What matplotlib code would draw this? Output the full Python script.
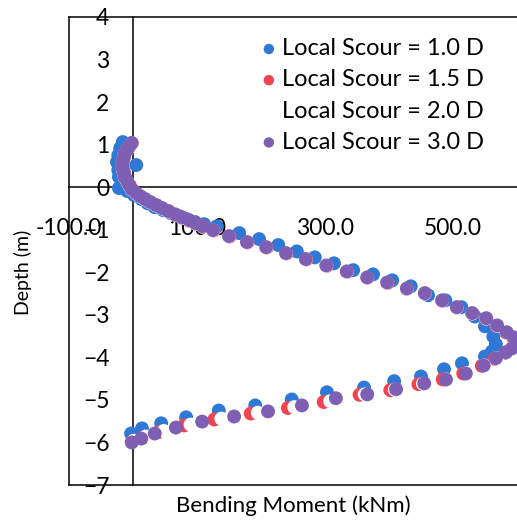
import matplotlib
matplotlib.use("Agg")
import matplotlib.pyplot as plt

plt.rcParams['font.family'] = ['Lato', 'DejaVu Sans']

# Local scour = 1.0 D
moment_10 = [-16, -20, -23, -25, 5, -23, -22, -22, -9, 2, 13, 23, 34, 47, 59, 72, 84, 97, 111, 131,
             166, 197, 227, 256, 284, 314, 344, 375, 405, 434, 461, 488, 513, 534, 550, 563, 567, 561,
             550, 514, 486, 450, 408, 361, 303, 248, 191, 134, 83, 44, 14, -3]
depth_10 = [1.06, 0.92, 0.75, 0.59, 0.52, 0.40, 0.24, -0.02, -0.09, -0.19, -0.28, -0.38, -0.47, -0.54,
            -0.61, -0.68, -0.75, -0.82, -0.87, -0.92, -1.08, -1.22, -1.36, -1.51, -1.65, -1.79, -1.95,
            -2.05, -2.19, -2.33, -2.54, -2.66, -2.82, -3.04, -3.27, -3.51, -3.69, -3.86, -3.98, -4.14,
            -4.28, -4.45, -4.56, -4.71, -4.82, -4.99, -5.13, -5.25, -5.41, -5.55, -5.67, -5.79]

# Local scour = 1.5 D
moment_15 = [-2, -6, -10, -13, -14, -16, -16, -16, -14, -12, -9, -5, -1, 5, 12, 19, 28, 37, 46, 56,
             66, 77, 88, 99, 110,
             126, 151, 179, 209, 240, 271, 303, 335, 366, 398, 428, 456, 483, 506, 530, 551, 568, 583, 594,
             594, 582, 565, 545, 516, 484, 446, 402, 354, 298, 242, 184, 127, 80, 41, 16, -1]
depth_15 = [1.03, 0.95, 0.88, 0.79, 0.70, 0.60, 0.51, 0.41, 0.32, 0.23, 0.13, 0.04, -0.06, -0.15,
            -0.22, -0.29, -0.36, -0.43, -0.50, -0.57, -0.65, -0.72, -0.79, -0.86, -0.93,
            -1.02, -1.16, -1.30, -1.42, -1.56, -1.70, -1.85, -1.99, -2.13, -2.25, -2.39, -2.50, -2.67,
            -2.83, -2.97, -3.09, -3.26, -3.42, -3.54,
            -3.77, -3.89, -4.03, -4.20, -4.38, -4.52, -4.63, -4.77, -4.88, -5.05, -5.19, -5.32, -5.46,
            -5.60, -5.75, -5.88, -5.97]

# Local scour = 2.0 D
moment_20 = [-2, -6, -9, -13, -14, -16, -16, -16, -14, -13, -9, -6, -2, 5, 11, 19, 27, 36, 45, 55,
             66, 77, 88, 98, 109,
             125, 150, 178, 208, 239, 270, 302, 334, 366, 397, 428, 456, 483, 506, 530, 552, 569, 584, 595,
             596, 585, 568, 549, 522, 490, 453, 409, 362, 308, 252, 195, 138, 90, 48, 20, 1]
depth_20 = [1.03, 0.95, 0.88, 0.79, 0.70, 0.60, 0.51, 0.41, 0.32, 0.23, 0.13, 0.04, -0.06, -0.15,
            -0.22, -0.29, -0.36, -0.43, -0.50, -0.57, -0.65, -0.72, -0.79, -0.86, -0.93,
            -1.02, -1.16, -1.30, -1.42, -1.56, -1.70, -1.85, -1.99, -2.13, -2.25, -2.39, -2.50, -2.67,
            -2.83, -2.97, -3.09, -3.26, -3.42, -3.54,
            -3.77, -3.88, -4.02, -4.19, -4.37, -4.52, -4.62, -4.76, -4.87, -5.03, -5.17, -5.30, -5.44,
            -5.58, -5.73, -5.86, -5.96]

# Local scour = 3.0 D
moment_30 = [-2, -6, -9, -13, -14, -16, -16, -16, -14, -13, -9, -6, -2, 5, 11, 19, 27, 36, 45, 55,
             66, 77, 88, 98, 109, 125, 150, 178, 208, 239, 270, 302, 334, 366, 397, 428, 456, 483,
             506, 530, 552, 569, 584, 595, 602, 592, 583, 567, 548, 520, 489, 455, 411, 366, 317,
             264, 211, 158, 108, 67, 34, 13, -2]
depth_30 = [1.04, 0.96, 0.89, 0.80, 0.71, 0.61, 0.52, 0.42, 0.33, 0.24, 0.14, 0.05, -0.05, -0.14,
            -0.21, -0.28, -0.35, -0.42, -0.49, -0.56, -0.64, -0.71, -0.78, -0.85, -0.92, -1.01,
            -1.15, -1.29, -1.41, -1.55, -1.69, -1.84, -1.98, -2.12, -2.24, -2.38, -2.49, -2.66,
            -2.82, -2.96, -3.08, -3.25, -3.41, -3.53, -3.67, -3.79, -3.88, -4.02, -4.19, -4.38,
            -4.52, -4.61, -4.75, -4.87, -4.96, -5.13, -5.27, -5.39, -5.51, -5.65, -5.79, -5.91, -6.00]

labels = ['Local Scour = 1.0 D', 'Local Scour = 1.5 D', 'Local Scour = 2.0 D', 'Local Scour = 3.0 D']
colors = ['#2E78D6', '#F2434F', '#FFFFFF', '#7F5FB3']
x_ticks = [-100, 100, 300, 500]
y_ticks = list(range(-7, 5))

W, H = 517, 522
fig = plt.figure(figsize=(W / 100, H / 100), dpi=100)
# plot area runs off the right edge of the picture
ax = fig.add_axes([69 / W, (H - 485) / H, 512 / W, 468 / H])

series = [(moment_10, depth_10), (moment_15, depth_15), (moment_20, depth_20), (moment_30, depth_30)]
for (m, d), lab, c in zip(series, labels, colors):
    ax.scatter(m, d, s=100, color=c, edgecolors='none', label=lab, zorder=3)

ax.set_xlim(-100, 700)
ax.set_ylim(-7, 4)
ax.set_xticks(x_ticks)
ax.set_xticklabels([f'{v:.1f}' for v in x_ticks])
ax.set_yticks(y_ticks)

# axes cross at zero, plot area keeps its own border
ax.spines['left'].set_position(('data', 0))
ax.spines['bottom'].set_position(('data', 0))
for sp in ax.spines.values():
    sp.set_linewidth(1.1)
ax.plot([0, 0], [0, 1], transform=ax.transAxes, color='black', lw=1.1, clip_on=False)
ax.plot([0, 1], [0, 0], transform=ax.transAxes, color='black', lw=1.1, clip_on=False)

ax.tick_params(axis='x', length=0, pad=22, labelsize=16.5)
ax.tick_params(axis='y', length=0, pad=17, labelsize=16.5)

ax.set_xlabel('Bending Moment (kNm)', fontsize=16)
ax.xaxis.set_label_coords(0.4385, -0.022)
ax.set_ylabel('Depth (m)', fontsize=14)
ax.yaxis.set_label_coords(-0.072, 0.455)

ax.legend(loc='upper left', bbox_to_anchor=(0.335, 0.99), frameon=False, fontsize=17,
          markerscale=0.75, handletextpad=0.05, labelspacing=0.43, borderpad=0.2, handlelength=1.0)

fig.savefig('out.png', dpi=100)
